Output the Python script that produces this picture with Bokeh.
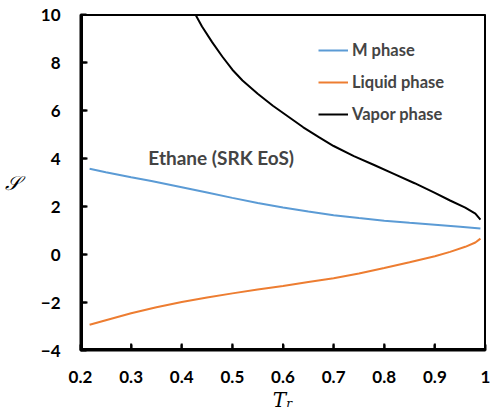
from bokeh.plotting import figure
from bokeh.models import Range1d, FixedTicker, Label, Legend, LegendItem
from bokeh.embed import file_html
from bokeh.resources import INLINE

# Data
m_tr = [0.218, 0.25, 0.30, 0.34, 0.40, 0.45, 0.50, 0.55, 0.60, 0.65, 0.70, 0.75, 0.80, 0.85, 0.90, 0.95, 0.99]
m_s = [3.57, 3.43, 3.22, 3.06, 2.80, 2.58, 2.36, 2.15, 1.96, 1.79, 1.64, 1.52, 1.41, 1.32, 1.24, 1.16, 1.08]

liq_tr = [0.218, 0.25, 0.30, 0.35, 0.40, 0.45, 0.50, 0.55, 0.60, 0.65, 0.70, 0.75, 0.80, 0.85, 0.90, 0.93, 0.96, 0.98, 0.99]
liq_s = [-2.93, -2.74, -2.45, -2.20, -1.98, -1.79, -1.62, -1.46, -1.31, -1.15, -0.99, -0.79, -0.56, -0.32, -0.07, 0.11, 0.32, 0.50, 0.66]

vap_tr = [0.427, 0.44, 0.46, 0.48, 0.50, 0.52, 0.55, 0.58, 0.61, 0.64, 0.67, 0.70, 0.74, 0.78, 0.82, 0.86, 0.90, 0.93, 0.96, 0.98, 0.99]
vap_s = [10.0, 9.5, 8.85, 8.25, 7.7, 7.25, 6.7, 6.2, 5.75, 5.3, 4.9, 4.52, 4.1, 3.73, 3.35, 2.97, 2.57, 2.25, 1.95, 1.70, 1.45]

x_ticks = [0.2, 0.3, 0.4, 0.5, 0.6, 0.7, 0.8, 0.9, 1]
y_ticks = [-4, -2, 0, 2, 4, 6, 8, 10]
x_min, x_max = 0.2, 1.0
y_min, y_max = -4, 10

FONT = "Lato"
FRAME_W, FRAME_H = 405, 336  # plot-area size in pixels
px_x = (x_max - x_min) / FRAME_W
px_y = (y_max - y_min) / FRAME_H

p = figure(width=490, height=419, output_backend="svg", toolbar_location=None,
           x_range=Range1d(x_min, x_max), y_range=Range1d(y_min, y_max),
           min_border_left=80, min_border_right=5, min_border_top=14, min_border_bottom=69)

p.xgrid.grid_line_color = None
p.ygrid.grid_line_color = None
p.outline_line_color = "black"
p.outline_line_width = 1

for ax in (p.xaxis, p.yaxis):
    ax.axis_line_width = 2
    ax.axis_line_color = "black"
    ax.major_tick_in = 6
    ax.major_tick_out = 0
    ax.major_tick_line_width = 2
    ax.major_tick_line_color = "black"
    ax.minor_tick_line_color = None
    ax.major_label_text_font = FONT
    ax.major_label_text_font_style = "bold"
    ax.major_label_text_font_size = "17px"
    ax.major_label_text_color = "black"
    ax.major_label_standoff = 20

p.xaxis.ticker = FixedTicker(ticks=x_ticks)
p.yaxis.ticker = FixedTicker(ticks=y_ticks)
p.xaxis.major_label_overrides = {1: "1"}

p.xaxis.axis_label = "T\u1d63"
p.xaxis.axis_label_text_font = "DejaVu Serif"
p.xaxis.axis_label_text_font_style = "italic"
p.xaxis.axis_label_text_font_size = "20px"
p.xaxis.axis_label_text_color = "black"
p.xaxis.axis_label_standoff = 2

p.yaxis.axis_label = "\U0001D4AE"
p.yaxis.axis_label_orientation = "horizontal"
p.yaxis.axis_label_text_font = "DejaVu Serif"
p.yaxis.axis_label_text_font_style = "italic"
p.yaxis.axis_label_text_font_size = "20px"
p.yaxis.axis_label_text_color = "black"
p.yaxis.axis_label_standoff = 18

# frame lines drawn as glyphs just inside the plot area (left/bottom heavier)
p.line([x_min + px_x, x_min + px_x], [y_min, y_max], line_color="black", line_width=3)
p.line([x_min, x_max], [y_min + px_y, y_min + px_y], line_color="black", line_width=3)
p.line([x_max - 0.5 * px_x, x_max - 0.5 * px_x], [y_min, y_max], line_color="black", line_width=2)
p.line([x_min, x_max], [y_max - 0.5 * px_y, y_max - 0.5 * px_y], line_color="black", line_width=2)

# inward tick marks, 6 px long
p.segment(x0=x_ticks, y0=[y_min + px_y] * len(x_ticks), x1=x_ticks, y1=[y_min + 7 * px_y] * len(x_ticks),
          line_color="black", line_width=2)
p.segment(x0=[x_min + px_x] * len(y_ticks), y0=y_ticks, x1=[x_min + 7 * px_x] * len(y_ticks), y1=y_ticks,
          line_color="black", line_width=2)

r_m = p.line(m_tr, m_s, line_color="#5B9BD5", line_width=2)
r_l = p.line(liq_tr, liq_s, line_color="#ED7D31", line_width=2)
r_v = p.line(vap_tr, vap_s, line_color="black", line_width=2)

legend = Legend(items=[LegendItem(label="M phase", renderers=[r_m]),
                       LegendItem(label="Liquid phase", renderers=[r_l]),
                       LegendItem(label="Vapor phase", renderers=[r_v])],
                location=(238, 226), glyph_width=30, spacing=12,
                padding=0, margin=0, label_standoff=4, border_line_alpha=0,
                background_fill_alpha=0, label_text_font=FONT, label_text_font_style="bold",
                label_text_font_size="16.5px")
p.add_layout(legend)

p.add_layout(Label(x=0.334, y=4.03, text="Ethane (SRK EoS)", text_font=FONT, text_font_style="bold",
                   text_font_size="19px", text_align="left", text_baseline="alphabetic"))

open("out.html", "w").write(file_html(p, INLINE))
